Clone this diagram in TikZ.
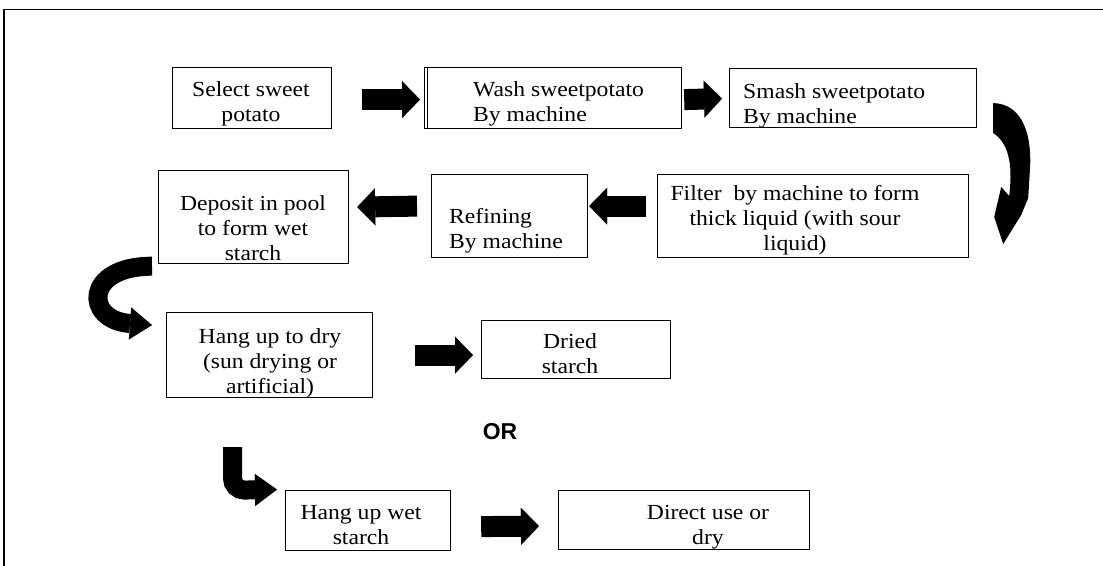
\documentclass[tikz,border=0pt]{standalone}
\usepackage{fontspec}
\setmainfont{Liberation Serif}[FakeStretch=1.1]
\newfontfamily\orfont{Liberation Sans}
\usetikzlibrary{arrows.meta,calc}
\begin{document}
\begin{tikzpicture}[x=1pt,y=-1pt,
  box/.style={draw,line width=1.2pt,inner sep=0pt,anchor=north west},
  txt/.style={inner sep=0pt,font=\fontsize{21.5}{25}\selectfont},
  blk/.style={line width=21pt,-{Triangle[length=18pt,width=37pt,line width=0.01pt]}},
  curv/.style={line width=19pt,-{Triangle[length=22pt,width=32pt,line width=0.01pt]}}]
\useasboundingbox (0,0) rectangle (1103,565);
% outer frame
\draw[line width=1.8pt] (4,568) -- (4,9.5) -- (1106,9.5);
% boxes
\node[box,minimum width=159pt,minimum height=61pt] (b1) at (172,67) {};
\node[box,minimum width=257pt,minimum height=61pt] (b2) at (424,67) {};
\draw[line width=1.2pt] ($(b2.north west)+(3.5,0)$) -- ($(b2.south west)+(3.5,0)$);
\node[box,minimum width=247pt,minimum height=59pt] (b3) at (729,68) {};
\node[box,minimum width=311pt,minimum height=83pt] (b4) at (657,174) {};
\node[box,minimum width=156pt,minimum height=83pt] (b5) at (431,174) {};
\node[box,minimum width=190pt,minimum height=93pt] (b6) at (158,170) {};
\node[box,minimum width=206pt,minimum height=85pt] (b7) at (166,312) {};
\node[box,minimum width=189pt,minimum height=58pt] (b8) at (481,320) {};
\node[box,minimum width=165pt,minimum height=60pt] (b9) at (285,490) {};
\node[box,minimum width=251pt,minimum height=59pt] (b10) at (558,490) {};
% texts
\node[txt,anchor=north,align=center] (t1) at (251,81) {Select sweet\\potato};
\node[txt,anchor=north west,align=left] (t2) at (473,81) {Wash sweetpotato\\By machine};
\node[txt,anchor=north west,align=left] (t3) at (743,83) {Smash sweetpotato\\By machine};
\node[txt,anchor=north,align=center] (t4) at (795,185) {Filter\ \ by machine to form\\thick liquid (with sour\\liquid)};
\node[txt,anchor=north west,align=left] (t5) at (449,208) {Refining\\By machine};
\node[txt,anchor=north,align=center] (t6) at (253,195) {Deposit in pool\\to form wet\\starch};
\node[txt,anchor=north,align=center] (t7) at (270,328) {Hang up to dry\\(sun drying or\\artificial)};
\node[txt,anchor=north,align=center] (t8) at (570,333) {Dried\\starch};
\node[txt,anchor=north,align=center] (t9) at (361,505) {Hang up wet\\starch};
\node[txt,anchor=north,align=center] (t10) at (708,505) {Direct use or\\dry};
\node[inner sep=0pt,font=\orfont\bfseries\fontsize{23}{26}\selectfont] (or) at (500,432) {OR};
% straight block arrows
\draw[blk] ($(b1.east)+(30,1.5)$) -- ($(b2.west)+(-4,1.5)$);
\draw[blk] ($(b2.east)+(2,1.5)$) -- ($(b3.west)+(-7,0.5)$);
\draw[blk] ($(b4.west)+(-11,-10)$) -- ($(b5.east)+(1,-10)$);
\draw[blk] ($(b5.west)+(-14,-10)$) -- ($(b6.east)+(8,-10)$);
\draw[blk] ($(b7.east)+(42,0)$) -- ($(b8.west)+(-8,5.5)$);
\draw[blk] ($(b9.east)+(30,6)$) -- ($(b10.west)+(-19,6)$);
% curved arrow on the right (hand-drawn shape)
\begin{scope}[shift={(b3.north east)}]
\fill (16,35) .. controls (42,36) and (54,60) .. (53,97) -- (51,130) -- (44,147)
  -- (26,176) -- (17,149) -- (24,119) -- (32,128)
  .. controls (35,102) and (34,77) .. (16,65) -- cycle;
\end{scope}
% curved arrows
\draw[curv] ($(b6.south west)+(-6,2)$) .. controls +(-68,0) and +(-68,-5) .. ($(b7.west)+(-14,-30)$);
\draw[curv,rounded corners=12pt] ($(b7.south west)+(66.5,49)$) -- ++(0,43) -- ($(b9.west)+(-8,-31)$);
\end{tikzpicture}
\end{document}
